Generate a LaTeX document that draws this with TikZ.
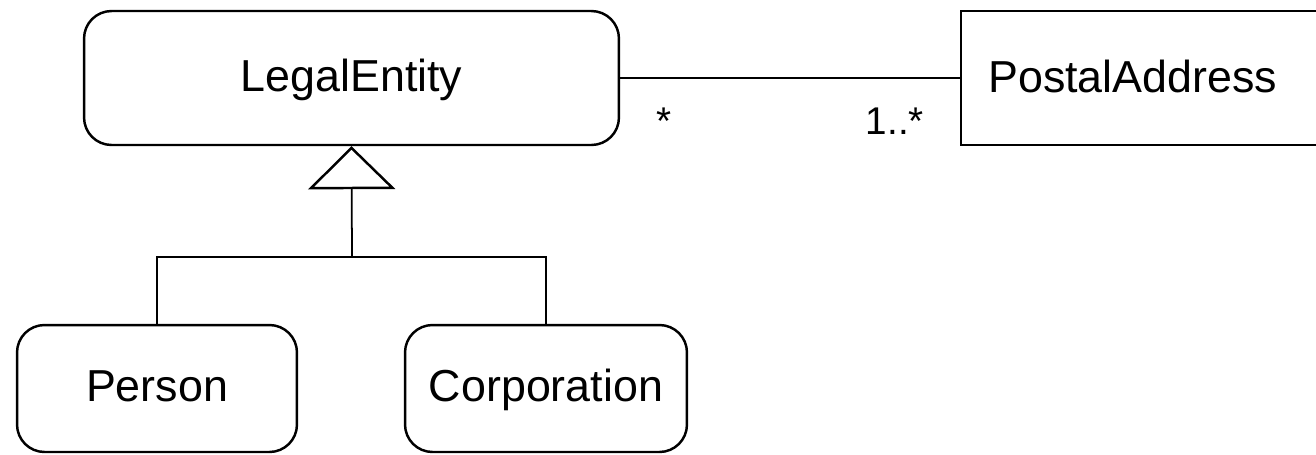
\documentclass[tikz,border=0pt]{standalone}
\usepackage{fontspec}
\setmainfont{Liberation Sans}
\usetikzlibrary{arrows.meta}
\usetikzlibrary{positioning}

\tikzset{
  classbox/.style={draw, line width=1.4pt, rounded corners=0.55cm, text height=19pt, text depth=4.2pt, font=\fontsize{25.5}{30}\selectfont},
  plainbox/.style={draw, line width=1.4pt},
  link/.style={line width=1pt},
  mult/.style={font=\fontsize{22}{26}\selectfont}
}

\begin{document}
\begin{tikzpicture}[x=0.02cm, y=-0.02cm]
\useasboundingbox (0,0) rectangle (1316,454);
\node[classbox, minimum width=10.7cm, minimum height=2.68cm](legal) at (351.5,78){LegalEntity};
\node[plainbox, minimum width=8.0cm, minimum height=2.68cm, anchor=west](postal) at (960,78){};
\node[anchor=base west, font=\fontsize{25.5}{30}\selectfont](postaltext) at (982,92){PostalAddress};
\node[classbox, minimum width=5.6cm, minimum height=2.54cm](person) at (157,388.5){Person};
\node[classbox, minimum width=5.64cm, minimum height=2.54cm](corp) at (546,388.5){Corporation};
\coordinate (join) at (352,257);
% generalisation
\draw[link] (person.north) |- (join) -| (corp.north);
\draw[link, -{Triangle[open, length=0.86cm, width=1.74cm, line width=1.4pt]}] (join) -- (legal.south);
% association
\draw[link] (legal.east) -- (postal.west);
\node[mult](m1) at (664,121){*};
\node[mult](m2) at (895,121){1..*};
\end{tikzpicture}
\end{document}
